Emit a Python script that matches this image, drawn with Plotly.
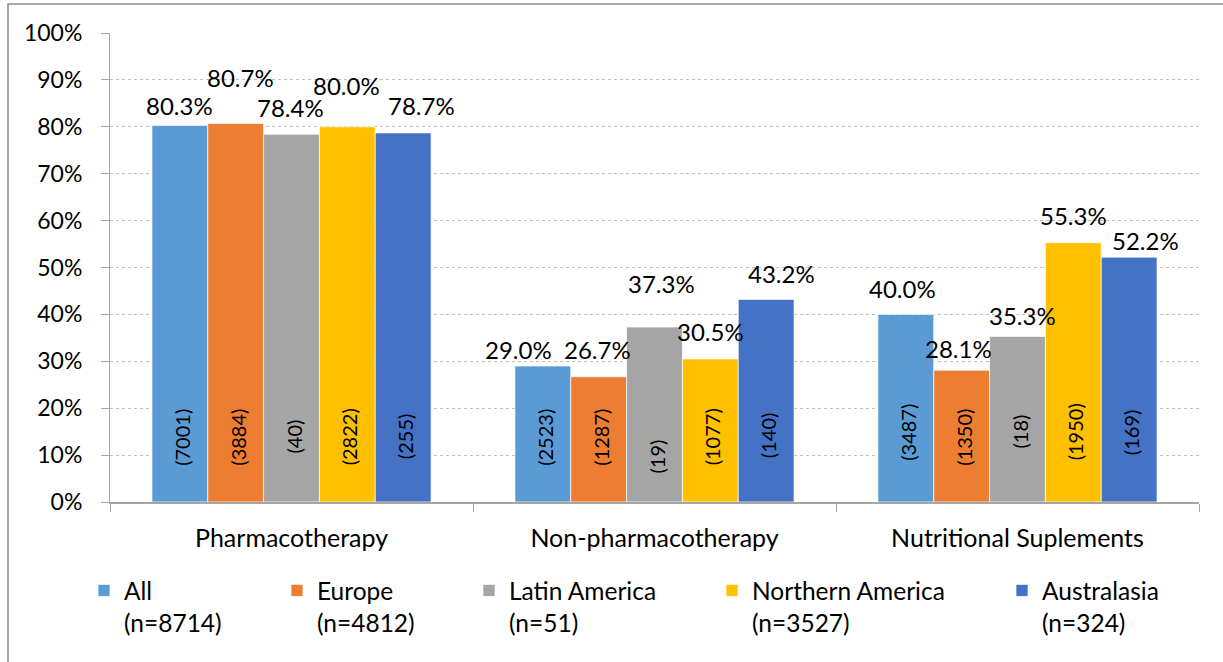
import plotly.graph_objects as go

categories = ["Pharmacotherapy", "Non-pharmacotherapy", "Nutritional Suplements"]
regions = ["All", "Europe", "Latin America", "Northern America", "Australasia"]
region_n = [8714, 4812, 51, 3527, 324]

pct_all = [80.3, 29.0, 40.0]
pct_europe = [80.7, 26.7, 28.1]
pct_latin = [78.4, 37.3, 35.3]
pct_northern = [80.0, 30.5, 55.3]
pct_australasia = [78.7, 43.2, 52.2]

count_all = [7001, 2523, 3487]
count_europe = [3884, 1287, 1350]
count_latin = [40, 19, 18]
count_northern = [2822, 1077, 1950]
count_australasia = [255, 140, 169]

pcts = [pct_all, pct_europe, pct_latin, pct_northern, pct_australasia]
counts = [count_all, count_europe, count_latin, count_northern, count_australasia]
colors = ["#5B9BD5", "#ED7D31", "#A5A5A5", "#FFC000", "#4472C4"]

FONT = "Lato"
W, H = 1223, 662
ML, MR, MT, MB = 110, 24, 33, 160
BARGAP = 0.231
plot_w = W - ML - MR
plot_h = H - MT - MB
bar_px = plot_w / len(categories) * (1 - BARGAP) / len(regions)

# label nudges (px) to mimic the staggered placement: (dx, dy above bar top)
pct_nudge = [
    [(0, 20), (-24, 16), (-3, 26)],
    [(5, 46), (-1, 27), (-3, 22)],
    [(-1, 27), (7, 44), (5, 21)],
    [(-1, 41), (0, 27), (0, 27)],
    [(18, 27), (15, 26), (16, 17)],
]
count_dy = [
    [65, 65, 70],
    [65, 65, 65],
    [65, 45, 70],
    [65, 65, 70],
    [65, 66, 69],
]

fig = go.Figure()
for i, name in enumerate(regions):
    fig.add_trace(
        go.Bar(
            x=categories,
            y=pcts[i],
            name=f"{name}<br>(n={region_n[i]})",
            marker=dict(color=colors[i], line=dict(color="rgba(255,255,255,0.7)", width=1)),
            legend="legend" if i == 0 else f"legend{i + 1}",
        )
    )

annotations = []
for i in range(len(regions)):
    off = (i - (len(regions) - 1) / 2) * bar_px
    for j, cat in enumerate(categories):
        dx, dy = pct_nudge[i][j]
        annotations.append(
            dict(
                x=cat, y=pcts[i][j], xref="x", yref="y",
                text=f"{pcts[i][j]:.1f}%", showarrow=False,
                xanchor="center", yanchor="middle",
                xshift=off + dx, yshift=dy,
                font=dict(family=FONT, size=24, color="#000000"),
            )
        )
        annotations.append(
            dict(
                x=cat, y=0, xref="x", yref="y",
                text=f"({counts[i][j]})", showarrow=False,
                textangle=-90, xanchor="center", yanchor="middle",
                xshift=off + 2, yshift=count_dy[i][j],
                font=dict(family=FONT, size=20, color="#000000"),
            )
        )

# legend positions (px of left edge) laid out like the original wrapped legend
legend_left_px = [84, 277, 469, 712, 1002]
legend_top_px = 568
legends = {}
for i, lx in enumerate(legend_left_px):
    key = "legend" if i == 0 else f"legend{i + 1}"
    legends[key] = dict(
        x=(lx - ML) / plot_w, xanchor="left",
        y=((H - MB) - legend_top_px) / plot_h, yanchor="top",
        orientation="h", valign="top",
        font=dict(family=FONT, size=24.5, color="#000000"),
        bgcolor="rgba(0,0,0,0)", itemclick=False,
    )

fig.update_layout(
    width=W, height=H,
    margin=dict(l=ML, r=MR, t=MT, b=MB),
    barmode="group", bargap=BARGAP, bargroupgap=0,
    plot_bgcolor="white", paper_bgcolor="white",
    font=dict(family=FONT, size=24, color="#000000"),
    annotations=annotations,
    showlegend=True,
    shapes=[
        dict(
            type="rect", xref="paper", yref="paper",
            x0=(8 - ML) / plot_w, x1=(1240 - ML) / plot_w,
            y0=((H - MB) - 680) / plot_h, y1=((H - MB) - 4) / plot_h,
            line=dict(color="#8c8c8c", width=1.5), fillcolor="rgba(0,0,0,0)",
            layer="below",
        )
    ],
    **legends,
)
fig.update_yaxes(
    range=[0, 100], dtick=10, ticksuffix="%",
    showgrid=True, gridcolor="#BFBFBF", griddash="dot", gridwidth=1,
    showline=True, linecolor="#A6A6A6", linewidth=1,
    ticks="outside", ticklen=8, tickcolor="#A6A6A6",
    ticklabelstandoff=14, zeroline=False,
    tickfont=dict(family=FONT, size=23),
)
fig.update_xaxes(
    showline=True, linecolor="#A6A6A6", linewidth=1.5,
    ticks="outside", ticklen=8, tickcolor="#A6A6A6", tickson="boundaries",
    ticklabelstandoff=13, showgrid=False,
    tickfont=dict(family=FONT, size=25),
)

# the page body has a default 8px margin; drop it so the figure sits at the origin
fig.write_html(
    "out.html",
    config={"displayModeBar": False},
    post_script="document.body.style.margin='0';",
)
